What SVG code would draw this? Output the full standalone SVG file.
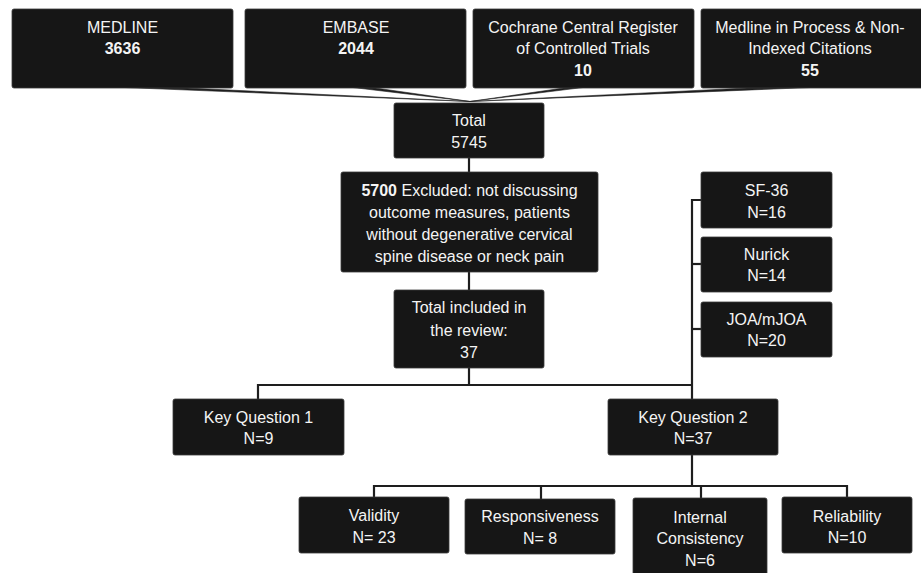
<svg xmlns="http://www.w3.org/2000/svg" width="921" height="573" viewBox="0 0 921 573">
<style>
.box{fill:#161616;stroke:#3a3a3a;stroke-width:0.8}
.t{font-family:"Liberation Sans",Arial,sans-serif;font-size:16px;fill:#f4f4f4;text-anchor:middle}
.b{font-weight:bold}
.ln{stroke:#1e1e1e;stroke-width:2.2;fill:none}
.wedge{fill:#1e1e1e;stroke:#1e1e1e;stroke-width:0.6;stroke-linejoin:round}
</style>
<rect width="921" height="573" fill="#ffffff"/>
<g id="connectors">
<polygon class="wedge" points="125,87.5 176,87.5 470,101.5"/>
<polygon class="wedge" points="353,87.5 372,87.5 470,101.5"/>
<polygon class="wedge" points="567,87.5 583,87.5 470,101.5"/>
<polygon class="wedge" points="757,87.5 810,87.5 470,101.5"/>
<path class="ln" d="M469,158 V172"/>
<path class="ln" d="M469,272 V290"/>
<path class="ln" d="M469,368 V385"/>
<path class="ln" d="M258,399 V385 H692"/>
<path class="ln" d="M701,200 H692 V399"/>
<path class="ln" d="M692,264 H701"/>
<path class="ln" d="M692,329 H701"/>
<path class="ln" d="M692,455 V486"/>
<path class="ln" d="M374,497 V486 H847 V497"/>
<path class="ln" d="M541,486 V499"/>
<path class="ln" d="M701,486 V498"/>
</g>
<g id="medline">
<rect class="box" x="12" y="9" width="221" height="79" rx="2"/>
<text class="t" x="122.5" y="33">MEDLINE</text>
<text class="t b" x="122.5" y="54">3636</text>
</g>
<g id="embase">
<rect class="box" x="245" y="9" width="221" height="79" rx="2"/>
<text class="t" x="356" y="33">EMBASE</text>
<text class="t b" x="356" y="54">2044</text>
</g>
<g id="cochrane">
<rect class="box" x="473" y="9" width="221" height="79" rx="2"/>
<text class="t" x="583" y="33">Cochrane Central Register</text>
<text class="t" x="583" y="54">of Controlled Trials</text>
<text class="t b" x="583" y="76">10</text>
</g>
<g id="medline-process">
<rect class="box" x="701" y="9" width="225" height="79" rx="2"/>
<text class="t" x="810" y="33">Medline in Process &amp; Non-</text>
<text class="t" x="810" y="54">Indexed Citations</text>
<text class="t b" x="810" y="76">55</text>
</g>
<g id="total">
<rect class="box" x="394" y="103" width="150" height="55" rx="2"/>
<text class="t" x="469" y="126">Total</text>
<text class="t" x="469" y="148">5745</text>
</g>
<g id="excluded">
<rect class="box" x="341" y="172" width="257" height="100" rx="2"/>
<text class="t" x="469.5" y="196"><tspan class="b">5700</tspan> Excluded: not discussing</text>
<text class="t" x="469.5" y="218">outcome measures, patients</text>
<text class="t" x="469.5" y="240">without degenerative cervical</text>
<text class="t" x="469.5" y="262">spine disease or neck pain</text>
</g>
<g id="included">
<rect class="box" x="394" y="290" width="150" height="78" rx="2"/>
<text class="t" x="469" y="313">Total included in</text>
<text class="t" x="469" y="335.5">the review:</text>
<text class="t" x="469" y="358">37</text>
</g>
<g id="sf36">
<rect class="box" x="701" y="172" width="131" height="56" rx="2"/>
<text class="t" x="766.5" y="196">SF-36</text>
<text class="t" x="766.5" y="218">N=16</text>
</g>
<g id="nurick">
<rect class="box" x="701" y="237" width="131" height="55" rx="2"/>
<text class="t" x="766.5" y="260">Nurick</text>
<text class="t" x="766.5" y="281">N=14</text>
</g>
<g id="joa">
<rect class="box" x="701" y="302" width="131" height="55" rx="2"/>
<text class="t" x="766.5" y="325">JOA/mJOA</text>
<text class="t" x="766.5" y="346">N=20</text>
</g>
<g id="kq1">
<rect class="box" x="173" y="399" width="171" height="56" rx="2"/>
<text class="t" x="258.5" y="423">Key Question 1</text>
<text class="t" x="258.5" y="444">N=9</text>
</g>
<g id="kq2">
<rect class="box" x="608" y="399" width="170" height="56" rx="2"/>
<text class="t" x="693" y="423">Key Question 2</text>
<text class="t" x="693" y="444">N=37</text>
</g>
<g id="validity">
<rect class="box" x="299" y="497" width="150" height="56" rx="2"/>
<text class="t" x="374" y="521">Validity</text>
<text class="t" x="374" y="543">N= 23</text>
</g>
<g id="responsiveness">
<rect class="box" x="465" y="499" width="150" height="55" rx="2"/>
<text class="t" x="540" y="522">Responsiveness</text>
<text class="t" x="540" y="544">N= 8</text>
</g>
<g id="internal">
<rect class="box" x="633" y="498" width="134" height="82" rx="2"/>
<text class="t" x="700" y="523">Internal</text>
<text class="t" x="700" y="544">Consistency</text>
<text class="t" x="700" y="566">N=6</text>
</g>
<g id="reliability">
<rect class="box" x="782" y="497" width="130" height="56" rx="2"/>
<text class="t" x="847" y="522">Reliability</text>
<text class="t" x="847" y="543">N=10</text>
</g>
</svg>
